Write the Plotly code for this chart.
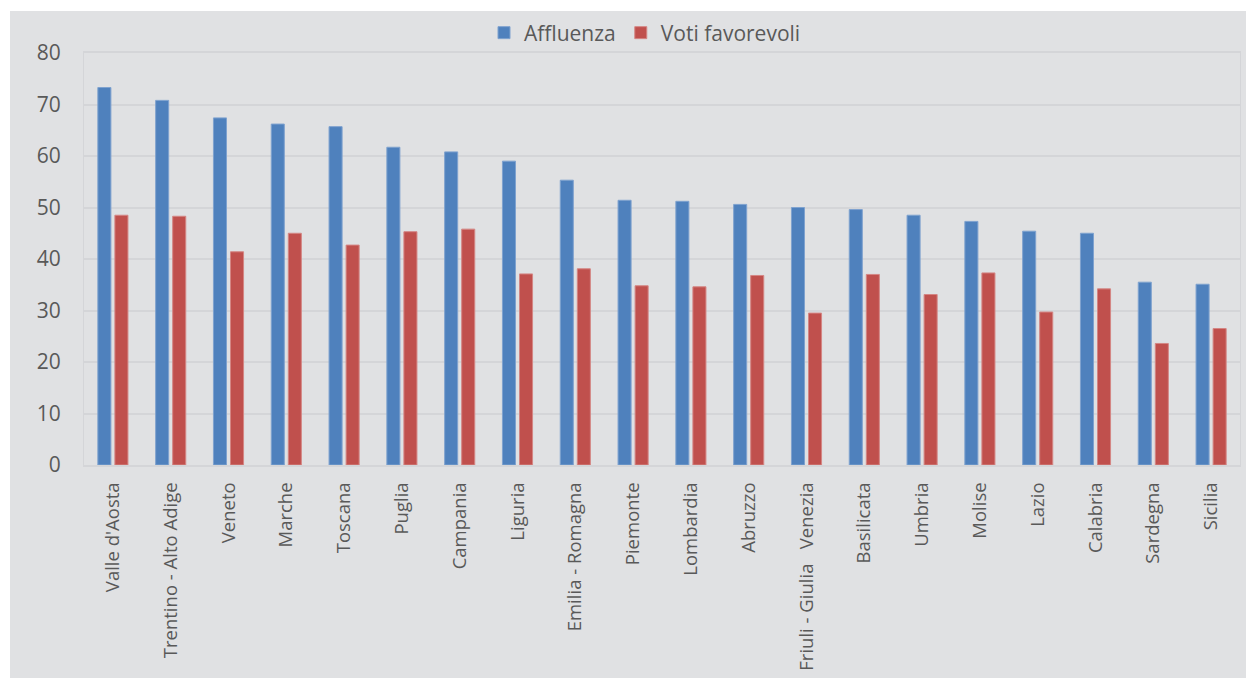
import plotly.graph_objects as go

regioni = ["Valle d'Aosta", "Trentino - Alto Adige", "Veneto", "Marche", "Toscana",
           "Puglia", "Campania", "Liguria", "Emilia - Romagna", "Piemonte",
           "Lombardia", "Abruzzo", "Friuli - Giulia\u00a0\u00a0 Venezia", "Basilicata", "Umbria",
           "Molise", "Lazio", "Calabria", "Sardegna", "Sicilia"]
affluenza = [73.3, 70.8, 67.4, 66.2, 65.7, 61.7, 60.8, 59.0, 55.3, 51.4,
             51.2, 50.6, 50.0, 49.6, 48.5, 47.3, 45.4, 45.0, 35.5, 35.1]
voti_favorevoli = [48.5, 48.3, 41.4, 45.0, 42.7, 45.3, 45.8, 37.1, 38.1, 34.8,
                   34.6, 36.8, 29.5, 37.0, 33.1, 37.3, 29.7, 34.2, 23.6, 26.5]
y_ticks = [0, 10, 20, 30, 40, 50, 60, 70, 80]

W, H = 1246, 679
L, R, T, B = 84, 6, 53, 214
pw, ph = W - L - R, H - T - B

BG = "#e0e1e3"
GRID = "#d4d5d8"
TXT = "#595959"
FONT = "Open Sans"

fig = go.Figure()
fig.add_trace(go.Bar(x=regioni, y=affluenza, name="Affluenza",
                     marker=dict(color="#4f81bd", line=dict(color="#7fa2cf", width=1))))
fig.add_trace(go.Bar(x=regioni, y=voti_favorevoli, name="Voti favorevoli",
                     marker=dict(color="#c0504d", line=dict(color="#d48684", width=1))))

# grey panel behind everything (pixel edges: left 10, top 11, right 1246, bottom 678)
fig.add_shape(type="rect", xref="paper", yref="paper", layer="below",
              x0=(10 - L) / pw, x1=(W - L) / pw,
              y0=-(678 - (T + ph)) / ph, y1=(T + ph - 11) / ph,
              fillcolor=BG, line=dict(width=0))

fig.update_layout(
    width=W, height=H,
    margin=dict(l=L, r=R, t=T, b=B, pad=0, autoexpand=False),
    paper_bgcolor="white",
    plot_bgcolor=BG,
    barmode="group",
    bargap=0.41,
    bargroupgap=0.235,
    font=dict(family=FONT, color=TXT),
    showlegend=True,
    legend=dict(orientation="h", x=(645 - L) / pw, xanchor="center",
                y=(T + ph - 33) / ph, yanchor="middle",
                font=dict(size=21, color=TXT, family=FONT),
                bgcolor="rgba(0,0,0,0)", itemwidth=30, traceorder="normal"),
    xaxis=dict(tickangle=-90, tickfont=dict(size=18.5, color=TXT, family=FONT),
               showgrid=False, showline=True, linecolor=GRID, linewidth=2,
               mirror=True, ticks="", ticklabelstandoff=8, automargin=False),
    yaxis=dict(range=[0, 80], tickvals=y_ticks, tickfont=dict(size=21, color=TXT, family=FONT),
               showgrid=True, gridcolor=GRID, gridwidth=2, zeroline=False,
               showline=True, linecolor=GRID, linewidth=1, mirror=True,
               ticks="", ticklabelstandoff=18, automargin=False),
)

fig.write_html("out.html", config={"displayModeBar": False},
               post_script="document.body.style.margin='0';document.body.style.overflow='hidden';")
